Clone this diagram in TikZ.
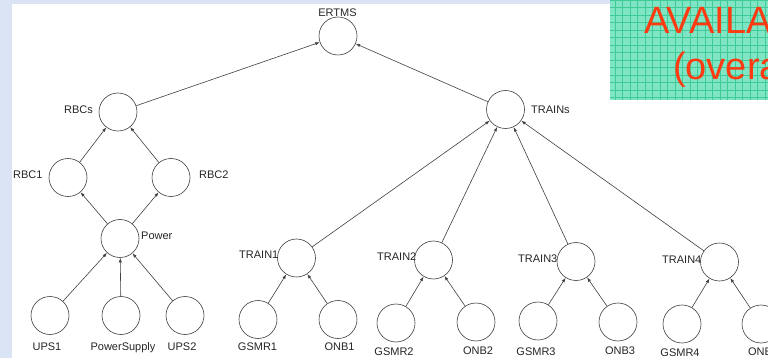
\documentclass[tikz,border=0pt]{standalone}
\usepackage{fontspec}
\setmainfont{Liberation Sans}
\usetikzlibrary{arrows.meta}

\definecolor{slideblue}{HTML}{DAE4F4}
\definecolor{gridfill}{HTML}{7FE5C4}
\definecolor{gridline}{HTML}{3FCB98}
\definecolor{titlered}{HTML}{FF3A10}
\definecolor{edgegray}{HTML}{404040}

\tikzset{
  blk/.style={circle, draw=edgegray, line width=0.6pt, minimum size=38pt, inner sep=0pt},
  lbl/.style={inner sep=0pt, font=\fontsize{11}{11}\selectfont, text=black!85, text height=7.9pt, text depth=0pt},
  dep/.style={draw=edgegray, line width=0.6pt, -{Latex[length=4.5pt,width=3.2pt]}},
  title/.style={inner sep=0pt, anchor=base west, text=titlered, font=\fontsize{38}{38}\selectfont}
}

\begin{document}
\begin{tikzpicture}[x=1pt, y=-1pt]
  \useasboundingbox (0,0) rectangle (768,358);
  \clip (0,0) rectangle (768,358);

  % slide background and white panel
  \fill[slideblue] (0,0) rectangle (768,358);
  \fill[white] (12,4) rectangle (768,358);

  % gridded title box
  \fill[gridfill] (610,0) rectangle (768,100);
  \draw[gridline, line width=0.45pt, step=7.5pt] (610,0) grid (768,100);
  \node[title] (t1) at (644,34) {AVAILA};
  \node[title] (t2) at (673,80) {(overa};

  % blocks
  \node[blk] (ertms)  at (338,36)     {};
  \node[blk] (rbcs)   at (118,112)    {};
  \node[blk] (trains) at (505.5,109.5) {};
  \node[blk] (rbc1)   at (68,177.5)   {};
  \node[blk] (rbc2)   at (171,177.5)  {};
  \node[blk] (power)  at (120,238.5)  {};
  \node[blk] (ups1)   at (50,315.5)   {};
  \node[blk] (psu)    at (121,315.5)  {};
  \node[blk] (ups2)   at (185,315.5)  {};
  \node[blk] (tr1)    at (296.5,258)  {};
  \node[blk] (g1)     at (258,319.5)  {};
  \node[blk] (o1)     at (338,319.5)  {};
  \node[blk] (tr2)    at (433.5,260)  {};
  \node[blk] (g2)     at (396,323)    {};
  \node[blk] (o2)     at (476,322)    {};
  \node[blk] (tr3)    at (576,261.5)  {};
  \node[blk] (g3)     at (538,321)    {};
  \node[blk] (o3)     at (618,322)    {};
  \node[blk] (tr4)    at (719.5,262)  {};
  \node[blk] (g4)     at (682,324)    {};
  \node[blk] (o4)     at (761,324)    {};

  % labels
  \node[lbl] (lertms)  at (337.5,13)          {ERTMS};
  \node[lbl, anchor=west] (ltrains) at (531,110) {TRAINs};
  \node[lbl, anchor=east] (lrbcs)   at (93,110)  {RBCs};
  \node[lbl, anchor=west] (lrbc1)   at (13,175)  {RBC1};
  \node[lbl, anchor=west] (lrbc2)   at (199,175) {RBC2};
  \node[lbl, anchor=west] (lpower)  at (141,236) {Power};
  \node[lbl] (lups1) at (47,347)   {UPS1};
  \node[lbl] (lpsu)  at (123,347)  {PowerSupply};
  \node[lbl] (lups2) at (182,347)  {UPS2};
  \node[lbl, anchor=west] (ltr1) at (239,255) {TRAIN1};
  \node[lbl] (lg1) at (257.5,347) {GSMR1};
  \node[lbl] (lo1) at (339.5,347) {ONB1};
  \node[lbl, anchor=west] (ltr2) at (377,257) {TRAIN2};
  \node[lbl] (lg2) at (394,352) {GSMR2};
  \node[lbl] (lo2) at (478,351) {ONB2};
  \node[lbl, anchor=west] (ltr3) at (518,259) {TRAIN3};
  \node[lbl] (lg3) at (536,352) {GSMR3};
  \node[lbl] (lo3) at (620,351) {ONB3};
  \node[lbl, anchor=west] (ltr4) at (662,260) {TRAIN4};
  \node[lbl] (lg4) at (680,353) {GSMR4};
  \node[lbl] (lo4) at (763,352) {ONB4};

  % dependencies (child -> parent)
  \draw[dep] (rbcs) -- (ertms);
  \draw[dep] (trains) -- (ertms);
  \draw[dep] (rbc1) -- (rbcs);
  \draw[dep] (rbc2) -- (rbcs);
  \draw[dep] (power) -- (rbc1);
  \draw[dep] (power) -- (rbc2);
  \draw[dep] (ups1) -- (power);
  \draw[dep] (psu) -- (power);
  \draw[dep] (ups2) -- (power);
  \foreach \t in {tr1,tr2,tr3,tr4} {
    \draw[dep] (\t) -- (trains);
  }
  \draw[dep] (g1) -- (tr1);
  \draw[dep] (o1) -- (tr1);
  \draw[dep] (g2) -- (tr2);
  \draw[dep] (o2) -- (tr2);
  \draw[dep] (g3) -- (tr3);
  \draw[dep] (o3) -- (tr3);
  \draw[dep] (g4) -- (tr4);
  \draw[dep] (o4) -- (tr4);
\end{tikzpicture}
\end{document}
